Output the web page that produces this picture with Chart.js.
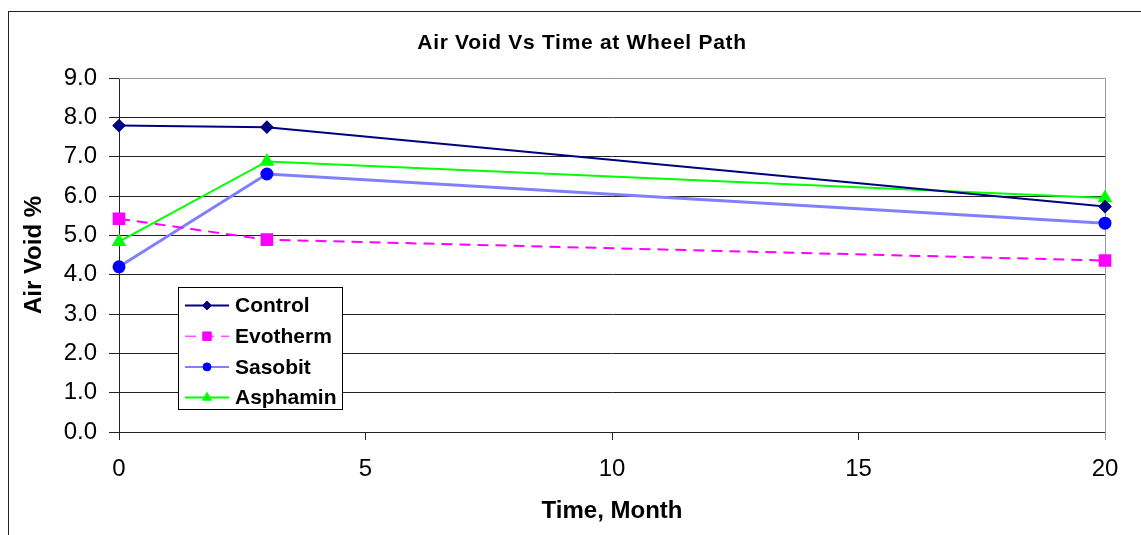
<!DOCTYPE html>
<html lang="en">
<head>
  <meta charset="UTF-8">
  <title>Air Void Vs Time at Wheel Path</title>
  <script src="https://cdn.jsdelivr.net/npm/chart.js"></script>
  <style>
    body { margin: 0; background: #fff; }
    canvas { display: block; }
  </style>
</head>
<body>
  <canvas id="voidChart" width="1141" height="535"></canvas>

  <script>
    // values
    const months   = [0, 3, 20];
    const control  = [7.79, 7.75, 5.73];
    const evotherm = [5.42, 4.89, 4.36];
    const sasobit  = [4.20, 6.56, 5.31];
    const asphamin = [4.84, 6.88, 5.95];

    const titleText = 'Air Void Vs Time at Wheel Path';
    const xTitle = 'Time, Month';
    const yTitle = 'Air Void %';
    const fontFam = '"Liberation Sans", Arial, sans-serif';

    function pts(vals) {
      return vals.map((v, i) => ({ x: months[i], y: v }));
    }

    // frame, title and the grey top/right border of the plot
    const decorations = {
      id: 'decorations',
      beforeDatasetsDraw(chart) {
        const a = chart.chartArea;
        const ctx = chart.ctx;
        ctx.save();
        ctx.strokeStyle = '#9a9a9a';
        ctx.lineWidth = 1;
        ctx.beginPath();
        ctx.moveTo(a.left, a.top + 0.5);
        ctx.lineTo(a.right + 0.5, a.top + 0.5);
        ctx.lineTo(a.right + 0.5, a.bottom + 8);
        ctx.stroke();
        ctx.restore();
      },
      afterDraw(chart) {
        const ctx = chart.ctx;
        ctx.save();
        ctx.strokeStyle = '#222';
        ctx.lineWidth = 1;
        ctx.strokeRect(8.5, 11.5, 1200, 600);
        ctx.fillStyle = '#000';
        ctx.font = 'bold 21px ' + fontFam;
        ctx.letterSpacing = '0.7px';
        ctx.textAlign = 'center';
        ctx.textBaseline = 'middle';
        ctx.fillText(titleText, 582, 43);
        ctx.restore();
      }
    };

    // boxed legend sitting inside the plot area
    const boxLegend = {
      id: 'boxLegend',
      afterDatasetsDraw(chart) {
        const ctx = chart.ctx;
        ctx.save();
        ctx.fillStyle = '#fff';
        ctx.fillRect(178.5, 287.5, 164, 122);
        ctx.strokeStyle = '#000';
        ctx.lineWidth = 1;
        ctx.strokeRect(178.5, 287.5, 164, 122);
        chart.data.datasets.forEach((ds, i) => {
          const y = 305.5 + i * 30.7;
          ctx.setLineDash(ds.borderDash || []);
          ctx.strokeStyle = ds.borderColor;
          ctx.lineWidth = ds.legendLine;
          ctx.beginPath();
          ctx.moveTo(185, y);
          ctx.lineTo(229, y);
          ctx.stroke();
          ctx.setLineDash([]);
          ctx.fillStyle = ds.pointBackgroundColor;
          ctx.strokeStyle = ds.pointBorderColor;
          ctx.lineWidth = 1;
          Chart.helpers.drawPoint(ctx, {
            pointStyle: ds.pointStyle, radius: ds.pointRadius * 0.8, rotation: 0, borderWidth: 1
          }, 207, y);
          ctx.fillStyle = '#000';
          ctx.font = 'bold 21px ' + fontFam;
          ctx.textAlign = 'left';
          ctx.textBaseline = 'middle';
          ctx.fillText(ds.label, 235, y + 1);
        });
        ctx.restore();
      }
    };

    const ctx = document.getElementById('voidChart').getContext('2d');
    new Chart(ctx, {
      type: 'line',
      data: {
        datasets: [
          {
            label: 'Control', data: pts(control),
            borderColor: '#000080', borderWidth: 2, legendLine: 2,
            pointStyle: 'rectRot', pointRadius: 5.5,
            pointBackgroundColor: '#000080', pointBorderColor: '#000080'
          },
          {
            label: 'Evotherm', data: pts(evotherm),
            borderColor: '#ff00ff', borderWidth: 2, borderDash: [11, 7], legendLine: 1,
            pointStyle: 'rect', pointRadius: 7.5,
            pointBackgroundColor: '#ff00ff', pointBorderColor: '#ff00ff'
          },
          {
            label: 'Sasobit', data: pts(sasobit),
            borderColor: '#8080ff', borderWidth: 3, legendLine: 2,
            pointStyle: 'circle', pointRadius: 5,
            pointBackgroundColor: '#0000ff', pointBorderColor: '#0000ff'
          },
          {
            label: 'Asphamin', data: pts(asphamin),
            borderColor: '#00ff00', borderWidth: 2, legendLine: 2,
            pointStyle: 'triangle', pointRadius: 6.5,
            pointBackgroundColor: '#00ff00', pointBorderColor: '#00ff00'
          }
        ]
      },
      options: {
        responsive: false,
        animation: false,
        devicePixelRatio: 1,
        layout: { padding: { top: 78, right: 36, bottom: 0, left: 0 } },
        plugins: {
          legend: { display: false },
          title: { display: false },
          tooltip: { enabled: false }
        },
        datasets: { line: { clip: false } },
        elements: { line: { tension: 0 }, point: { borderWidth: 1 } },
        scales: {
          x: {
            type: 'linear', min: 0, max: 20,
            afterFit: s => { s.height = 103; },
            ticks: {
              stepSize: 5, color: '#000', padding: 15,
              font: { family: fontFam, size: 24 }
            },
            grid: { drawOnChartArea: false, tickLength: 8, color: '#222', tickColor: '#222' },
            border: { display: true, color: '#222', width: 1 },
            title: {
              display: true, text: xTitle, color: '#000',
              font: { family: fontFam, size: 24, weight: 'bold' },
              padding: { top: 0, bottom: 9 }
            }
          },
          y: {
            min: 0, max: 9,
            afterFit: s => { s.width = 119; },
            ticks: {
              stepSize: 1, color: '#000', padding: 12,
              font: { family: fontFam, size: 24 },
              callback: v => v.toFixed(1)
            },
            grid: { tickLength: 10, color: '#222', tickColor: '#222', lineWidth: 1 },
            border: { display: true, color: '#222', width: 1 },
            title: {
              display: true, text: yTitle, color: '#000',
              font: { family: fontFam, size: 24, weight: 'bold' },
              padding: { top: 20, bottom: 0 }
            }
          }
        }
      },
      plugins: [decorations, boxLegend]
    });
  </script>
</body>
</html>
